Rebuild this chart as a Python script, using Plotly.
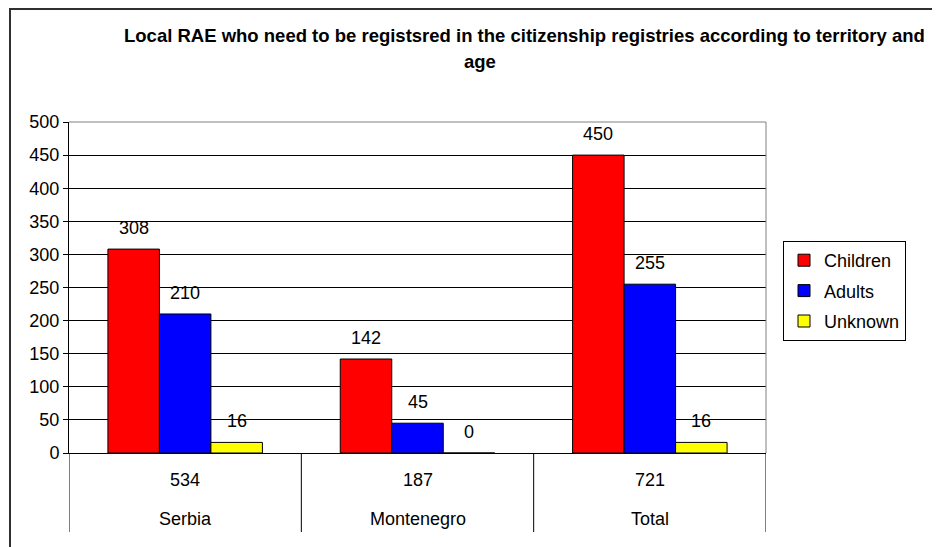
import plotly.graph_objects as go

categories = ["Serbia", "Montenegro", "Total"]
category_totals = ["534", "187", "721"]
series_names = ["Children", "Adults", "Unknown"]
children = [308, 142, 450]
adults = [210, 45, 255]
unknown = [16, 0, 16]
y_ticks = [0, 50, 100, 150, 200, 250, 300, 350, 400, 450, 500]

colors = ["#FF0000", "#0000FF", "#FFFF00"]
series_values = [children, adults, unknown]
FONT = "Liberation Sans, Arial, sans-serif"
FS = 18

# page offset (body margin) of 8px
OFF = 8
W, H = 940 - OFF, 547 - OFF
L, R, T, B = 69 - OFF, 940 - 766, 122 - OFF, 547 - 453
pw, ph = W - L - R, H - T - B
def px2paper_x(px):
    return (px - OFF - L) / pw
def px2paper_y(py):
    return (H - B - (py - OFF)) / ph

x_pos = list(range(len(categories)))
fig = go.Figure()
for k, (name, vals) in enumerate(zip(series_names, series_values)):
    fig.add_trace(go.Bar(
        x=x_pos, y=vals, name=name,
        marker=dict(color=colors[k], line=dict(color="black", width=1)),
        legendgroup=name,
    ))

bargap = 0.335
bw = (1 - bargap) / 3
annotations = []
for k, vals in enumerate(series_values):
    for i, v in enumerate(vals):
        xc = i - (1 - bargap) / 2 + bw * (k + 0.5)
        annotations.append(dict(x=xc, y=v, xref="x", yref="y", text=str(v),
                                showarrow=False, yshift=21, yanchor="middle",
                                font=dict(family=FONT, size=FS, color="black")))

for i, (tot, cat) in enumerate(zip(category_totals, categories)):
    annotations.append(dict(x=i, y=px2paper_y(480), xref="x", yref="paper", text=tot,
                            showarrow=False, yanchor="middle",
                            font=dict(family=FONT, size=FS, color="black")))
    annotations.append(dict(x=i, y=px2paper_y(519), xref="x", yref="paper", text=cat,
                            showarrow=False, yanchor="middle",
                            font=dict(family=FONT, size=FS, color="black")))

annotations.append(dict(x=px2paper_x(524), y=px2paper_y(35), xref="paper", yref="paper",
                        text="<b>Local RAE who need to be registsred in the citizenship registries according to territory and</b>",
                        showarrow=False, xanchor="center", yanchor="middle",
                        font=dict(family=FONT, size=18.5, color="black")))
annotations.append(dict(x=px2paper_x(480), y=px2paper_y(61), xref="paper", yref="paper",
                        text="<b>age</b>",
                        showarrow=False, xanchor="center", yanchor="middle",
                        font=dict(family=FONT, size=18.5, color="black")))

shapes = []
for xd in [-0.5, 0.5, 1.5, 2.5]:
    shapes.append(dict(type="line", xref="x", yref="paper", x0=xd, x1=xd,
                       y0=0, y1=px2paper_y(532), line=dict(color="black", width=1)))
shapes.append(dict(type="line", xref="paper", yref="paper", x0=0, x1=1, y0=1, y1=1,
                   line=dict(color="#808080", width=1)))
shapes.append(dict(type="line", xref="paper", yref="paper", x0=1, x1=1, y0=0, y1=1,
                   line=dict(color="#808080", width=1)))
shapes.append(dict(type="rect", xref="paper", yref="paper",
                   x0=px2paper_x(10), x1=px2paper_x(1000), y0=px2paper_y(600), y1=px2paper_y(9),
                   line=dict(color="#303030", width=2), layer="below"))

fig.update_layout(
    width=W, height=H,
    margin=dict(l=L, r=R, t=T, b=B, autoexpand=False),
    paper_bgcolor="white", plot_bgcolor="white",
    barmode="group", bargap=bargap, bargroupgap=0,
    font=dict(family=FONT, size=FS, color="black"),
    xaxis=dict(range=[-0.5, 2.5], showticklabels=False, showgrid=False, zeroline=False,
               showline=True, linecolor="black", linewidth=1, ticks=""),
    yaxis=dict(range=[0, 500], tickvals=y_ticks, showgrid=True, gridcolor="black", gridwidth=1,
               zeroline=False, showline=True, linecolor="black", linewidth=1,
               ticks="outside", ticklen=5, tickcolor="black",
               tickfont=dict(family=FONT, size=FS, color="black")),
    legend=dict(x=px2paper_x(783), y=px2paper_y(241), xanchor="left", yanchor="top",
                bordercolor="black", borderwidth=1, bgcolor="white",
                traceorder="grouped", tracegroupgap=4, itemwidth=30,
                font=dict(family=FONT, size=FS, color="black")),
    annotations=annotations,
    shapes=shapes,
)

fig.write_html("out.html")
